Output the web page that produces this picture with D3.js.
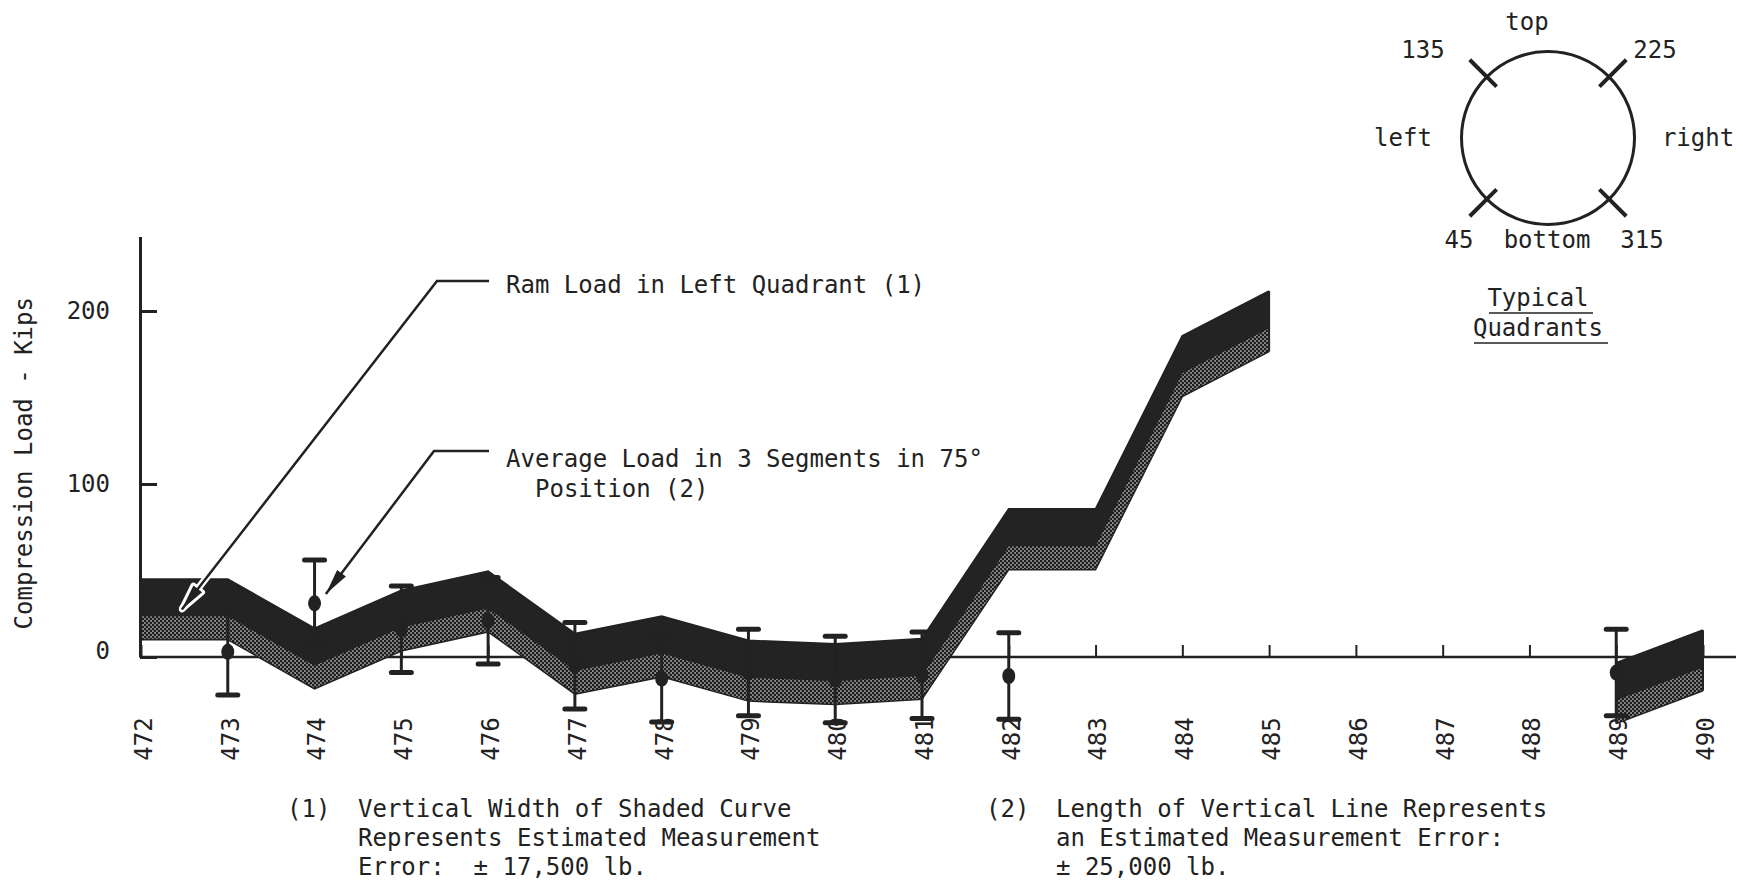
<!DOCTYPE html>
<html>
<head>
<meta charset="utf-8">
<script src="https://cdn.jsdelivr.net/npm/d3@7"></script>
<style>
  html, body { margin: 0; padding: 0; background: #fff; }
  svg text { font-family: "DejaVu Sans Mono", "Liberation Mono", monospace; fill: #222; }
</style>
</head>
<body>
<svg id="chart" width="1743" height="883"></svg>
<script>
// Stations along the ram (x axis)
const stationTicks = [472, 473, 474, 475, 476, 477, 478, 479, 480, 481, 482, 483, 484, 485, 486, 487, 488, 489, 490];
const yTicks = [0, 100, 200];

// Ram load in left quadrant, kips (null = no reading)
const loadStations     = [472, 473, 474, 475, 476, 477, 478, 479, 480, 481, 482, 483, 484, 485, 486, 487, 488, 489, 490];
const leftQuadrantLoad = [27.5, 27.5, -1, 21, 32, -4, 6, -8, -10, -7, 68, 68, 168, 194, null, null, null, -21, -2];
const loadError = 17.5;   // ± kips, band half-width

// Average load in 3 segments in 75° position, kips
const segmentStations = [473, 474, 475, 476, 477, 478, 479, 480, 481, 482, 489];
const segmentLoad     = [3, 31, 16, 21, -5, -12.5, -9, -13, -10.5, -11, -9];
const segmentError = 25;  // ± kips, error bar half-length

const ink = "#222";
const svg = d3.select("#chart");

const x = d3.scaleLinear().domain([472, 490]).range([141, 1703]);
const y = d3.scaleLinear().domain([0, 243]).range([657, 236.6]);

// halftone screen used for the shaded curve
const defs = svg.append("defs");
const pat = defs.append("pattern").attr("id", "screen")
  .attr("width", 4).attr("height", 4).attr("patternUnits", "userSpaceOnUse");
pat.append("rect").attr("width", 4).attr("height", 4).attr("fill", "#8e8e8e");
pat.append("circle").attr("cx", 1).attr("cy", 1).attr("r", 1.35).attr("fill", "#1e1e1e");
pat.append("circle").attr("cx", 3).attr("cy", 3).attr("r", 1.35).attr("fill", "#1e1e1e");

// ---- axes ----
const yAxis = d3.axisLeft(y).tickValues(yTicks).tickSizeInner(-17).tickSizeOuter(0).tickPadding(30);
const gy = svg.append("g").attr("transform", "translate(140,0)").call(yAxis);
gy.attr("font-family", null).attr("font-size", null);
gy.select(".domain").attr("stroke", ink).attr("stroke-width", 3);
gy.selectAll(".tick line").attr("stroke", ink).attr("stroke-width", 3);
gy.selectAll(".tick text").style("font-size", "24px").attr("fill", "#333")
  .attr("dy", d => d === 0 ? "0.05em" : "0.32em");

const xAxis = d3.axisBottom(x).tickValues(stationTicks).tickSizeInner(-12).tickSizeOuter(0).tickFormat(d3.format("d"));
const gx = svg.append("g").attr("transform", `translate(0,${y(0)})`).call(xAxis);
gx.attr("font-family", null).attr("font-size", null);
gx.select(".domain").remove();
gx.selectAll(".tick line").attr("stroke", ink).attr("stroke-width", 2);
gx.selectAll(".tick text")
  .attr("y", 0).attr("dy", "0.35em")
  .attr("transform", "translate(2,82) rotate(-90)")
  .style("text-anchor", "middle").style("font-size", "24px").attr("fill", "#333");
svg.append("line").attr("x1", 140).attr("x2", 1736).attr("y1", y(0)).attr("y2", y(0))
  .attr("stroke", ink).attr("stroke-width", 2.5);

svg.append("text").attr("transform", `translate(24,${y(112)}) rotate(-90)`)
  .attr("text-anchor", "middle").attr("dy", "0.35em").style("font-size", "24px")
  .text("Compression Load - Kips");

// ---- shaded load curve ----
const loadData = loadStations.map((s, i) => ({ s, v: leftQuadrantLoad[i] }));
const ok = d => d.v != null;
const band = d3.area().defined(ok).x(d => x(d.s))
  .y0(d => y(d.v - loadError)).y1(d => y(d.v + loadError));
const core = d3.area().defined(ok).x(d => x(d.s))
  .y0(d => y(d.v - 4)).y1(d => y(d.v + loadError));
const edgeTop = d3.line().defined(ok).x(d => x(d.s)).y(d => y(d.v + loadError));
const edgeBot = d3.line().defined(ok).x(d => x(d.s)).y(d => y(d.v - loadError));

svg.append("path").datum(loadData).attr("d", band).attr("fill", "url(#screen)");
svg.append("path").datum(loadData).attr("d", core).attr("fill", "#232323");
svg.append("path").datum(loadData).attr("d", edgeTop).attr("fill", "none").attr("stroke", ink).attr("stroke-width", 2);
svg.append("path").datum(loadData).attr("d", edgeBot).attr("fill", "none").attr("stroke", ink).attr("stroke-width", 1.5);
// vertical ends of each drawn segment
[472, 485, 489, 490].forEach(s => {
  const d = loadData.find(e => e.s === s);
  svg.append("line").attr("x1", x(s)).attr("x2", x(s))
    .attr("y1", y(d.v - loadError)).attr("y2", y(d.v + loadError))
    .attr("stroke", ink).attr("stroke-width", 2);
});

// ---- error bars ----
const segData = segmentStations.map((s, i) => ({ s, v: segmentLoad[i] }));
const eb = svg.append("g").selectAll("g").data(segData).join("g");
eb.append("line").attr("x1", d => x(d.s)).attr("x2", d => x(d.s))
  .attr("y1", d => y(d.v + segmentError)).attr("y2", d => y(d.v - segmentError))
  .attr("stroke", ink).attr("stroke-width", 3);
[1, -1].forEach(sign => {
  eb.append("line").attr("x1", d => x(d.s) - 10).attr("x2", d => x(d.s) + 10)
    .attr("y1", d => y(d.v + sign * segmentError)).attr("y2", d => y(d.v + sign * segmentError))
    .attr("stroke", ink).attr("stroke-width", 5).attr("stroke-linecap", "round");
});
eb.append("ellipse").attr("cx", d => x(d.s)).attr("cy", d => y(d.v))
  .attr("rx", 6.5).attr("ry", 8).attr("fill", ink);

// ---- callouts ----
function callout(x0, x1, yl, tip) {
  const g = svg.append("g");
  const pts = `${x1},${yl} ${x0},${yl} ${tip[0]},${tip[1]}`;
  const ang = Math.atan2(tip[1] - yl, tip[0] - x0);
  const L = 26, W = 5.5;
  const bx = tip[0] - L * Math.cos(ang), by = tip[1] - L * Math.sin(ang);
  const px = -Math.sin(ang) * W, py = Math.cos(ang) * W;
  const head = `M${tip[0]},${tip[1]}L${bx + px},${by + py}L${bx - px},${by - py}Z`;
  // white halo keeps the leader readable where it crosses the dark band
  g.append("polyline").attr("points", pts).attr("fill", "none").attr("stroke", "#fff").attr("stroke-width", 7);
  g.append("path").attr("d", head).attr("fill", "#fff").attr("stroke", "#fff").attr("stroke-width", 6).attr("stroke-linejoin", "round");
  g.append("polyline").attr("points", pts).attr("fill", "none").attr("stroke", ink).attr("stroke-width", 2.5);
  g.append("path").attr("d", head).attr("fill", ink);
}
callout(437, 489, 281, [x(472.47), y(27.5)]);
callout(434, 489, 451, [x(474.13), y(36.4)]);

const note = svg.append("g").style("font-size", "24px");
note.append("text").attr("x", 506).attr("y", 285).attr("dy", "0.35em").text("Ram Load in Left Quadrant (1)");
note.append("text").attr("x", 506).attr("y", 459).attr("dy", "0.35em").text("Average Load in 3 Segments in 75°");
note.append("text").attr("x", 535).attr("y", 489).attr("dy", "0.35em").text("Position (2)");

// ---- quadrant key ----
const qc = [1548, 138], qr = 86.5;
const qg = svg.append("g");
qg.append("circle").attr("cx", qc[0]).attr("cy", qc[1]).attr("r", qr)
  .attr("fill", "none").attr("stroke", ink).attr("stroke-width", 3);
[[-1, -1], [1, -1], [-1, 1], [1, 1]].forEach(([dx, dy]) => {
  const u = Math.SQRT1_2, m = qr * 1.06, h = 19;
  qg.append("line")
    .attr("x1", qc[0] + dx * u * (m - h)).attr("y1", qc[1] + dy * u * (m - h))
    .attr("x2", qc[0] + dx * u * (m + h)).attr("y2", qc[1] + dy * u * (m + h))
    .attr("stroke", ink).attr("stroke-width", 4);
});
const qLabels = [
  ["top", 1527, 22], ["135", 1423, 50], ["225", 1655, 50],
  ["left", 1403, 138], ["right", 1698, 138],
  ["45", 1459, 240], ["bottom", 1547, 240], ["315", 1642, 240],
  ["Typical", 1538, 298], ["Quadrants", 1538, 328]
];
qg.selectAll("text.q").data(qLabels).join("text").attr("class", "q")
  .attr("x", d => d[1]).attr("y", d => d[2]).attr("dy", "0.35em")
  .attr("text-anchor", "middle").style("font-size", "24px").text(d => d[0]);
qg.append("line").attr("x1", 1489).attr("x2", 1593).attr("y1", 313).attr("y2", 313).attr("stroke", ink).attr("stroke-width", 1.5);
qg.append("line").attr("x1", 1474).attr("x2", 1608).attr("y1", 343).attr("y2", 343).attr("stroke", ink).attr("stroke-width", 1.5);

// ---- footnotes ----
const fn = svg.append("g").style("font-size", "24px");
const foot1 = ["Vertical Width of Shaded Curve", "Represents Estimated Measurement", "Error:  \u00B1 17,500 lb."];
const foot2 = ["Length of Vertical Line Represents", "an Estimated Measurement Error:", "\u00B1 25,000 lb."];
const lineY = [809, 838, 867];
fn.append("text").attr("x", 287).attr("y", lineY[0]).attr("dy", "0.35em").text("(1)");
fn.append("text").attr("x", 986).attr("y", lineY[0]).attr("dy", "0.35em").text("(2)");
foot1.forEach((t, i) => fn.append("text").attr("x", 358).attr("y", lineY[i]).attr("dy", "0.35em").attr("xml:space", "preserve").text(t));
foot2.forEach((t, i) => fn.append("text").attr("x", 1056).attr("y", lineY[i]).attr("dy", "0.35em").text(t));
</script>
</body>
</html>
